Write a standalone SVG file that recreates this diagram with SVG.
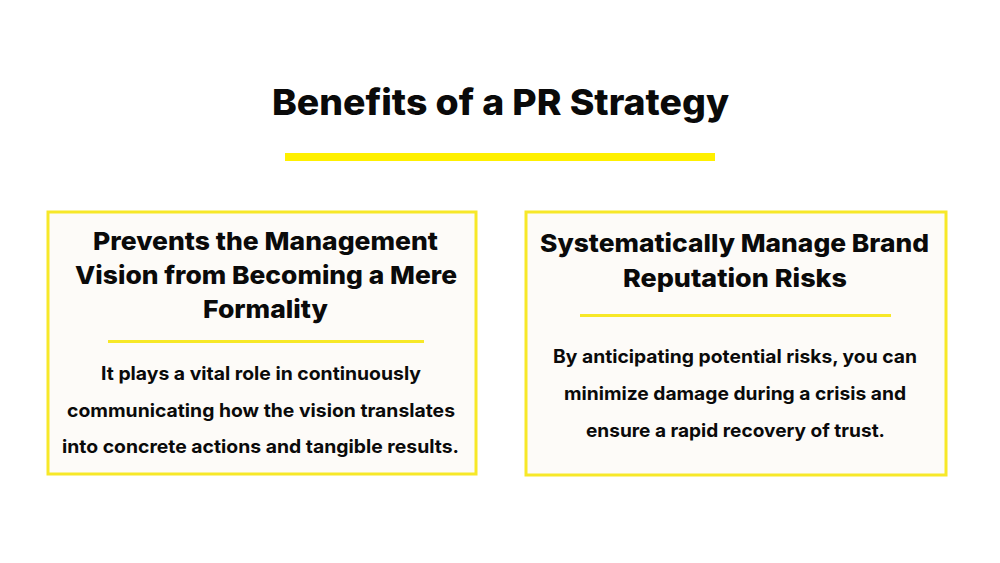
<svg xmlns="http://www.w3.org/2000/svg" width="1000" height="563" viewBox="0 0 1000 563">
<style>
text{font-family:Inter,"Open Sans","Liberation Sans",sans-serif;font-weight:800;fill:#0a0a0a;text-anchor:middle}
.title{font-size:36px}
.head{font-size:25px}
.body{font-size:18.5px;font-weight:700}
.card{fill:#fdfbf8;stroke:#f7e828;stroke-width:3}
.rule{stroke:#f7e828;stroke-width:3}
</style>
<rect width="1000" height="563" fill="#ffffff"/>
<g id="title">
<text class="title" x="500.5" y="115" textLength="457" lengthAdjust="spacingAndGlyphs">Benefits of a PR Strategy</text>
<rect x="285" y="153" width="430" height="8" fill="#fff000"/>
</g>
<g id="card-left">
<rect class="card" x="48" y="212" width="428" height="262"/>
<text class="head" x="265.5" y="250" textLength="345" lengthAdjust="spacingAndGlyphs">Prevents the Management</text>
<text class="head" x="266" y="284" textLength="382" lengthAdjust="spacingAndGlyphs">Vision from Becoming a Mere</text>
<text class="head" x="265.5" y="318" textLength="125" lengthAdjust="spacingAndGlyphs">Formality</text>
<line class="rule" x1="108" y1="341.5" x2="424" y2="341.5"/>
<text class="body" x="261" y="380" textLength="320" lengthAdjust="spacingAndGlyphs">It plays a vital role in continuously</text>
<text class="body" x="261" y="417" textLength="388" lengthAdjust="spacingAndGlyphs">communicating how the vision translates</text>
<text class="body" x="260.5" y="453" textLength="397" lengthAdjust="spacingAndGlyphs">into concrete actions and tangible results.</text>
</g>
<g id="card-right">
<rect class="card" x="526" y="212" width="420" height="263"/>
<text class="head" x="734.5" y="252" textLength="389" lengthAdjust="spacingAndGlyphs">Systematically Manage Brand</text>
<text class="head" x="735" y="287" textLength="224" lengthAdjust="spacingAndGlyphs">Reputation Risks</text>
<line class="rule" x1="580" y1="315.5" x2="891" y2="315.5"/>
<text class="body" x="735" y="363" textLength="364" lengthAdjust="spacingAndGlyphs">By anticipating potential risks, you can</text>
<text class="body" x="735" y="400" textLength="342" lengthAdjust="spacingAndGlyphs">minimize damage during a crisis and</text>
<text class="body" x="735.5" y="437" textLength="299" lengthAdjust="spacingAndGlyphs">ensure a rapid recovery of trust.</text>
</g>
<g id="connectors"/>
</svg>
